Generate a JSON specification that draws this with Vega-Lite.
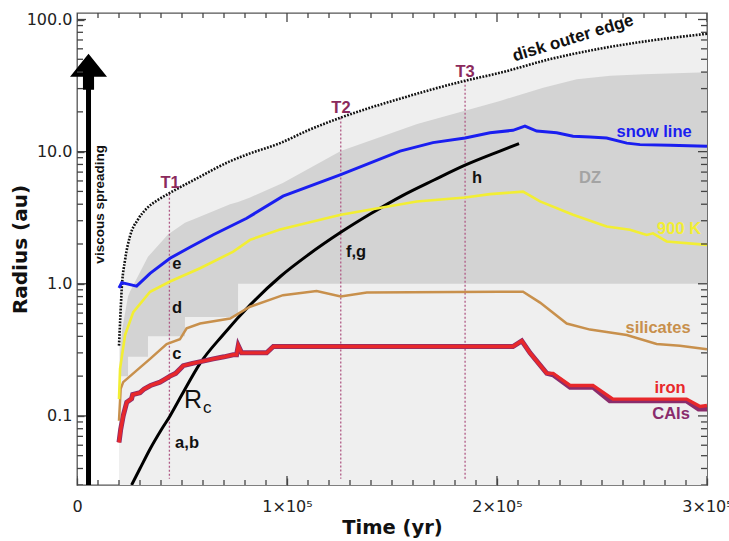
{
  "$schema": "https://vega.github.io/schema/vega-lite/v6.json",
  "width": 630,
  "height": 472,
  "autosize": {"type": "none"},
  "padding": {"left": 77, "top": 13, "right": 22, "bottom": 56},
  "background": "white",
  "config": {
    "view": {"stroke": "#555555", "strokeWidth": 1.3},
    "font": "DejaVu Sans"
  },
  "datasets": {
    "outer": [
      {"t": 20000, "r": 0.34}, {"t": 20600, "r": 0.55}, {"t": 21300, "r": 0.92}, {"t": 22900, "r": 1.52},
      {"t": 25200, "r": 2.28}, {"t": 29000, "r": 3.06}, {"t": 33200, "r": 3.72}, {"t": 38100, "r": 4.27},
      {"t": 43800, "r": 4.83}, {"t": 57000, "r": 6.27}, {"t": 72900, "r": 8.46}, {"t": 82400, "r": 9.7},
      {"t": 96700, "r": 11.6}, {"t": 110000, "r": 14.5}, {"t": 125600, "r": 18.1}, {"t": 155000, "r": 25.5},
      {"t": 184800, "r": 34.4}, {"t": 201400, "r": 39.5}, {"t": 225000, "r": 50}, {"t": 248600, "r": 60},
      {"t": 272400, "r": 69}, {"t": 300000, "r": 78}
    ],
    "dz": [
      {"t": 20500, "r": 0.3, "r2": 0.2}, {"t": 21500, "r": 0.45, "r2": 0.2}, {"t": 24300, "r": 0.8, "r2": 0.2},
      {"t": 24301, "r": 0.8, "r2": 0.28}, {"t": 25200, "r": 0.87, "r2": 0.28}, {"t": 33800, "r": 1.6, "r2": 0.28},
      {"t": 33801, "r": 1.6, "r2": 0.4}, {"t": 43300, "r": 2.36, "r2": 0.4}, {"t": 51400, "r": 2.9, "r2": 0.4},
      {"t": 51401, "r": 2.9, "r2": 0.56}, {"t": 57000, "r": 3.14, "r2": 0.56}, {"t": 72900, "r": 3.99, "r2": 0.56},
      {"t": 76700, "r": 4.15, "r2": 0.56}, {"t": 76701, "r": 4.15, "r2": 1.0}, {"t": 82400, "r": 4.5, "r2": 1.0},
      {"t": 98000, "r": 5.8, "r2": 1.0}, {"t": 125600, "r": 10.1, "r2": 1.0}, {"t": 162000, "r": 16.2, "r2": 1.0},
      {"t": 201400, "r": 24.2, "r2": 1.0}, {"t": 222000, "r": 30.5, "r2": 1.0}, {"t": 238000, "r": 35.3, "r2": 1.0},
      {"t": 254000, "r": 37.5, "r2": 1.0}, {"t": 270000, "r": 38.6, "r2": 1.0}, {"t": 300000, "r": 39.8, "r2": 1.0}
    ],
    "tlines": [
      {"t": 44000, "r": 4.8, "r2": 0.0335, "label": "T1"},
      {"t": 125600, "r": 18.1, "r2": 0.0335, "label": "T2"},
      {"t": 184800, "r": 34.4, "r2": 0.0335, "label": "T3"}
    ],
    "tlabels": [
      {"t": 44300, "r": 5.8, "label": "T1"},
      {"t": 125700, "r": 21.5, "label": "T2"},
      {"t": 184800, "r": 40, "label": "T3"}
    ],
    "rc": [
      {"t": 26000, "r": 0.03}, {"t": 30000, "r": 0.04}, {"t": 35000, "r": 0.057}, {"t": 40000, "r": 0.078},
      {"t": 44300, "r": 0.1}, {"t": 50000, "r": 0.145}, {"t": 58600, "r": 0.25}, {"t": 69500, "r": 0.41},
      {"t": 82400, "r": 0.69}, {"t": 96700, "r": 1.13}, {"t": 110000, "r": 1.65}, {"t": 125600, "r": 2.45},
      {"t": 140000, "r": 3.4}, {"t": 155000, "r": 4.65}, {"t": 170000, "r": 6.1}, {"t": 184800, "r": 7.9},
      {"t": 201400, "r": 10.1}, {"t": 210500, "r": 11.5}
    ],
    "iron": [
      {"t": 20000, "r": 0.063}, {"t": 20800, "r": 0.079}, {"t": 22000, "r": 0.1}, {"t": 23700, "r": 0.127},
      {"t": 26000, "r": 0.135}, {"t": 26500, "r": 0.145}, {"t": 30000, "r": 0.15}, {"t": 32000, "r": 0.16},
      {"t": 35000, "r": 0.17}, {"t": 39500, "r": 0.18}, {"t": 42000, "r": 0.19}, {"t": 44300, "r": 0.2},
      {"t": 47000, "r": 0.21}, {"t": 50600, "r": 0.24}, {"t": 55000, "r": 0.25}, {"t": 60000, "r": 0.26},
      {"t": 64900, "r": 0.27}, {"t": 70000, "r": 0.28}, {"t": 74400, "r": 0.29}, {"t": 76000, "r": 0.29},
      {"t": 76800, "r": 0.34}, {"t": 78400, "r": 0.3}, {"t": 90300, "r": 0.3}, {"t": 93500, "r": 0.335},
      {"t": 207600, "r": 0.335}, {"t": 211800, "r": 0.37}, {"t": 215700, "r": 0.3}, {"t": 223700, "r": 0.21},
      {"t": 226700, "r": 0.21}, {"t": 234800, "r": 0.17}, {"t": 245700, "r": 0.17}, {"t": 255200, "r": 0.134},
      {"t": 290300, "r": 0.134}, {"t": 296700, "r": 0.118}, {"t": 300000, "r": 0.12}
    ],
    "cais": [
      {"t": 20000, "r": 0.063}, {"t": 20800, "r": 0.079}, {"t": 22000, "r": 0.1}, {"t": 23700, "r": 0.127},
      {"t": 26000, "r": 0.135}, {"t": 26500, "r": 0.145}, {"t": 30000, "r": 0.15}, {"t": 32000, "r": 0.16},
      {"t": 35000, "r": 0.17}, {"t": 39500, "r": 0.18}, {"t": 42000, "r": 0.19}, {"t": 44300, "r": 0.2},
      {"t": 47000, "r": 0.21}, {"t": 50600, "r": 0.24}, {"t": 55000, "r": 0.25}, {"t": 60000, "r": 0.26},
      {"t": 64900, "r": 0.27}, {"t": 70000, "r": 0.28}, {"t": 74400, "r": 0.29}, {"t": 76000, "r": 0.29},
      {"t": 76800, "r": 0.34}, {"t": 78400, "r": 0.3}, {"t": 90300, "r": 0.3}, {"t": 93500, "r": 0.335},
      {"t": 207600, "r": 0.335}, {"t": 211800, "r": 0.37}, {"t": 215700, "r": 0.3}, {"t": 223700, "r": 0.21},
      {"t": 226700, "r": 0.205}, {"t": 234800, "r": 0.165}, {"t": 245700, "r": 0.165}, {"t": 253700, "r": 0.13},
      {"t": 290300, "r": 0.13}, {"t": 296000, "r": 0.113}, {"t": 300000, "r": 0.113}
    ],
    "silicates": [
      {"t": 20000, "r": 0.092}, {"t": 20800, "r": 0.16}, {"t": 22000, "r": 0.18}, {"t": 26800, "r": 0.21},
      {"t": 34800, "r": 0.27}, {"t": 42700, "r": 0.35}, {"t": 49000, "r": 0.38}, {"t": 52200, "r": 0.46},
      {"t": 58600, "r": 0.5}, {"t": 72900, "r": 0.545}, {"t": 82400, "r": 0.67}, {"t": 98100, "r": 0.82},
      {"t": 114100, "r": 0.88}, {"t": 125600, "r": 0.8}, {"t": 138000, "r": 0.86}, {"t": 201400, "r": 0.87},
      {"t": 212400, "r": 0.87}, {"t": 220500, "r": 0.72}, {"t": 233200, "r": 0.5}, {"t": 244300, "r": 0.45},
      {"t": 261800, "r": 0.41}, {"t": 276000, "r": 0.35}, {"t": 287100, "r": 0.34}, {"t": 300000, "r": 0.32}
    ],
    "k900": [
      {"t": 20000, "r": 0.134}, {"t": 20500, "r": 0.227}, {"t": 22900, "r": 0.41}, {"t": 26800, "r": 0.61},
      {"t": 34800, "r": 0.87}, {"t": 44300, "r": 1.04}, {"t": 58600, "r": 1.31}, {"t": 74400, "r": 1.75},
      {"t": 82400, "r": 2.15}, {"t": 96700, "r": 2.57}, {"t": 125600, "r": 3.33}, {"t": 161800, "r": 4.2},
      {"t": 184800, "r": 4.5}, {"t": 196700, "r": 4.77}, {"t": 212400, "r": 4.98}, {"t": 220500, "r": 4.2},
      {"t": 236200, "r": 3.33}, {"t": 252200, "r": 2.71}, {"t": 263300, "r": 2.56}, {"t": 271300, "r": 2.34},
      {"t": 274300, "r": 2.41}, {"t": 280800, "r": 2.09}, {"t": 300000, "r": 1.97}
    ],
    "snow": [
      {"t": 20000, "r": 0.93}, {"t": 21300, "r": 1.02}, {"t": 28400, "r": 0.96}, {"t": 34800, "r": 1.2},
      {"t": 44300, "r": 1.56}, {"t": 54000, "r": 1.9}, {"t": 64900, "r": 2.35}, {"t": 80800, "r": 3.13},
      {"t": 98100, "r": 4.6}, {"t": 125600, "r": 6.7}, {"t": 153800, "r": 10.1}, {"t": 169500, "r": 11.7},
      {"t": 184800, "r": 12.7}, {"t": 196700, "r": 13.9}, {"t": 207600, "r": 14.5}, {"t": 213300, "r": 15.6},
      {"t": 218900, "r": 14.3}, {"t": 228400, "r": 13.9}, {"t": 236200, "r": 13.1}, {"t": 244300, "r": 12.9},
      {"t": 252200, "r": 12.7}, {"t": 261800, "r": 11.6}, {"t": 268100, "r": 11.3}, {"t": 282400, "r": 11.2},
      {"t": 300000, "r": 11.0}
    ],
    "arrow": [{"t": 5480, "r": 32, "r2": 0.03}],
    "arrowhead": [{"t": 5480, "r": 39.9}],
    "letters": [
      {"t": 47600, "r": 1.42, "label": "e"}, {"t": 47600, "r": 0.657, "label": "d"},
      {"t": 47600, "r": 0.294, "label": "c"}, {"t": 52400, "r": 0.062, "label": "a,b"},
      {"t": 132900, "r": 1.75, "label": "f,g"}, {"t": 190500, "r": 6.28, "label": "h"}
    ],
    "names": [
      {"t": 274800, "r": 14.0, "label": "snow line", "series": "snow"},
      {"t": 244300, "r": 6.28, "label": "DZ", "series": "dz"},
      {"t": 286700, "r": 2.62, "label": "900 K", "series": "k900"},
      {"t": 276700, "r": 0.463, "label": "silicates", "series": "silicates"},
      {"t": 282400, "r": 0.162, "label": "iron", "series": "iron"},
      {"t": 282900, "r": 0.103, "label": "CAIs", "series": "cais"}
    ],
    "xmajor": [{"t": 0}, {"t": 100000}, {"t": 200000}, {"t": 300000}],
    "xminor": [
      {"t": 10000}, {"t": 20000}, {"t": 30000}, {"t": 40000}, {"t": 50000}, {"t": 60000}, {"t": 70000}, {"t": 80000}, {"t": 90000},
      {"t": 110000}, {"t": 120000}, {"t": 130000}, {"t": 140000}, {"t": 150000}, {"t": 160000}, {"t": 170000}, {"t": 180000}, {"t": 190000},
      {"t": 210000}, {"t": 220000}, {"t": 230000}, {"t": 240000}, {"t": 250000}, {"t": 260000}, {"t": 270000}, {"t": 280000}, {"t": 290000}
    ],
    "ymajor": [{"r": 0.1}, {"r": 1}, {"r": 10}, {"r": 100}],
    "yminor": [
      {"r": 0.03}, {"r": 0.04}, {"r": 0.05}, {"r": 0.06}, {"r": 0.07}, {"r": 0.08}, {"r": 0.09},
      {"r": 0.2}, {"r": 0.3}, {"r": 0.4}, {"r": 0.5}, {"r": 0.6}, {"r": 0.7}, {"r": 0.8}, {"r": 0.9},
      {"r": 2}, {"r": 3}, {"r": 4}, {"r": 5}, {"r": 6}, {"r": 7}, {"r": 8}, {"r": 9},
      {"r": 20}, {"r": 30}, {"r": 40}, {"r": 50}, {"r": 60}, {"r": 70}, {"r": 80}, {"r": 90}
    ]
  },
  "resolve": {"axis": {"x": "independent", "y": "independent"}},
  "layer": [
    {
      "encoding": {
        "x": {
          "field": "t", "type": "quantitative",
          "scale": {"domain": [0, 300000], "nice": false, "zero": false},
          "axis": {
            "orient": "bottom", "zindex": 1,
            "values": [0, 100000, 200000, 300000],
            "labelExpr": "datum.value == 0 ? '0' : format(datum.value / 100000, 'd') + '×10⁵'",
            "tickSize": -7, "tickColor": "#444444", "tickWidth": 1.3,
            "domain": false, "grid": false,
            "labelFlush": false, "labelOverlap": false,
            "labelFontSize": 16, "labelColor": "#222222", "labelPadding": 20,
            "title": "Time (yr)", "titleFontSize": 19.5, "titleFontWeight": "bold", "titleColor": "#111111",
            "titlePadding": 4
          }
        },
        "y": {
          "field": "r", "type": "quantitative",
          "scale": {"type": "log", "domain": [0.03, 112], "nice": false},
          "axis": {
            "orient": "left", "zindex": 1,
            "values": [0.1, 1, 10, 100],
            "labelExpr": "format(datum.value, '.1f')",
            "tickSize": -7, "tickColor": "#444444", "tickWidth": 1.3,
            "domain": false, "grid": false,
            "labelFlush": false, "labelOverlap": false,
            "labelFontSize": 16, "labelColor": "#222222", "labelPadding": 12,
            "title": "Radius (au)", "titleFontSize": 20, "titleFontWeight": "bold", "titleColor": "#111111",
            "titlePadding": -4
          }
        }
      },
      "layer": [
        {
          "data": {"name": "outer"},
          "mark": {"type": "area", "color": "#efefef", "opacity": 1},
          "encoding": {"y2": {"datum": 0.03}}
        },
        {
          "data": {"name": "dz"},
          "mark": {"type": "area", "color": "#d3d3d3", "opacity": 1},
          "encoding": {"y2": {"field": "r2"}}
        },
        {
          "data": {"name": "tlines"},
          "mark": {"type": "rule", "color": "#b05a85", "strokeWidth": 1.3, "strokeDash": [2, 2]},
          "encoding": {"y2": {"field": "r2"}}
        },
        {
          "data": {"name": "outer"},
          "mark": {"type": "line", "color": "#111111", "strokeWidth": 2.6, "strokeDash": [1.8, 1.4], "interpolate": "monotone"},
          "encoding": {}
        },
        {
          "data": {"name": "rc"},
          "mark": {"type": "line", "color": "#000000", "strokeWidth": 3, "interpolate": "monotone", "clip": true},
          "encoding": {}
        },
        {
          "data": {"name": "cais"},
          "mark": {"type": "line", "color": "#8a2c6c", "strokeWidth": 5},
          "encoding": {}
        },
        {
          "data": {"name": "iron"},
          "mark": {"type": "line", "color": "#e8282b", "strokeWidth": 3.4},
          "encoding": {}
        },
        {
          "data": {"name": "silicates"},
          "mark": {"type": "line", "color": "#c8904c", "strokeWidth": 2.5},
          "encoding": {}
        },
        {
          "data": {"name": "k900"},
          "mark": {"type": "line", "color": "#f2ee33", "strokeWidth": 2.6},
          "encoding": {}
        },
        {
          "data": {"name": "snow"},
          "mark": {"type": "line", "color": "#1a1ef0", "strokeWidth": 3},
          "encoding": {}
        },
        {
          "data": {"name": "arrow"},
          "mark": {"type": "rule", "color": "#000000", "strokeWidth": 5},
          "encoding": {"y2": {"field": "r2"}}
        },
        {
          "data": {"name": "arrowhead"},
          "mark": {"type": "point", "filled": true, "color": "#000000", "opacity": 1, "size": 1369,
                   "shape": "M0,-1L1,0.24L0.3,0.24L0.3,0.95L-0.3,0.95L-0.3,0.24L-1,0.24Z"},
          "encoding": {}
        },
        {
          "data": {"name": "tlabels"},
          "mark": {"type": "text", "font": "Liberation Sans", "fontWeight": "bold", "fontSize": 16.5, "color": "#8b2a5c", "align": "center", "baseline": "middle"},
          "encoding": {"text": {"field": "label"}}
        },
        {
          "data": {"name": "letters"},
          "mark": {"type": "text", "font": "Liberation Sans", "fontWeight": "bold", "fontSize": 16.5, "color": "#111111", "align": "center", "baseline": "middle"},
          "encoding": {"text": {"field": "label"}}
        },
        {
          "data": {"name": "names"},
          "mark": {"type": "text", "font": "Liberation Sans", "fontWeight": "bold", "fontSize": 16.5, "align": "center", "baseline": "middle"},
          "encoding": {
            "text": {"field": "label"},
            "color": {"field": "series", "type": "nominal", "legend": null,
                      "scale": {"domain": ["snow", "dz", "k900", "silicates", "iron", "cais"],
                                "range": ["#1a1ef0", "#a3a3a3", "#f2ee33", "#c8904c", "#e8282b", "#8a2c6c"]}}
          }
        },
        {
          "data": {"values": [{"t": 236200, "r": 72, "label": "disk outer edge"}]},
          "mark": {"type": "text", "font": "Liberation Sans", "fontWeight": "bold", "fontSize": 17, "color": "#111111", "align": "center", "baseline": "middle", "angle": 343},
          "encoding": {"text": {"field": "label"}}
        },
        {
          "data": {"values": [{"t": 10950, "r": 3.99, "label": "viscous spreading"}]},
          "mark": {"type": "text", "font": "Liberation Sans", "fontWeight": "bold", "fontSize": 13.5, "color": "#111111", "align": "center", "baseline": "middle", "angle": 270},
          "encoding": {"text": {"field": "label"}}
        },
        {
          "data": {"values": [{"t": 55200, "r": 0.131, "label": "R"}]},
          "mark": {"type": "text", "font": "Liberation Sans", "fontSize": 25, "color": "#111111", "align": "center", "baseline": "middle"},
          "encoding": {"text": {"field": "label"}}
        },
        {
          "data": {"values": [{"t": 62000, "r": 0.114, "label": "c"}]},
          "mark": {"type": "text", "font": "Liberation Sans", "fontSize": 17, "color": "#111111", "align": "center", "baseline": "middle"},
          "encoding": {"text": {"field": "label"}}
        }
      ]
    },
    {
      "layer": [
        {
          "data": {"name": "xmajor"},
          "mark": {"type": "tick", "orient": "vertical", "size": 18, "thickness": 1.3, "color": "#444444", "opacity": 1, "clip": true},
          "encoding": {
            "x": {"field": "t", "type": "quantitative", "scale": {"domain": [0, 300000], "nice": false, "zero": false}, "axis": null},
            "y": {"datum": 0.03, "type": "quantitative", "scale": {"type": "log", "domain": [0.03, 112], "nice": false}, "axis": null}
          }
        },
        {
          "data": {"name": "xmajor"},
          "mark": {"type": "tick", "orient": "vertical", "size": 18, "thickness": 1.3, "color": "#444444", "opacity": 1, "clip": true},
          "encoding": {
            "x": {"field": "t", "type": "quantitative", "scale": {"domain": [0, 300000], "nice": false, "zero": false}, "axis": null},
            "y": {"datum": 112, "type": "quantitative", "scale": {"type": "log", "domain": [0.03, 112], "nice": false}, "axis": null}
          }
        },
        {
          "data": {"name": "xminor"},
          "mark": {"type": "tick", "orient": "vertical", "size": 10, "thickness": 1.3, "color": "#444444", "opacity": 1, "clip": true},
          "encoding": {
            "x": {"field": "t", "type": "quantitative", "scale": {"domain": [0, 300000], "nice": false, "zero": false}, "axis": null},
            "y": {"datum": 0.03, "type": "quantitative", "scale": {"type": "log", "domain": [0.03, 112], "nice": false}, "axis": null}
          }
        },
        {
          "data": {"name": "xminor"},
          "mark": {"type": "tick", "orient": "vertical", "size": 10, "thickness": 1.3, "color": "#444444", "opacity": 1, "clip": true},
          "encoding": {
            "x": {"field": "t", "type": "quantitative", "scale": {"domain": [0, 300000], "nice": false, "zero": false}, "axis": null},
            "y": {"datum": 112, "type": "quantitative", "scale": {"type": "log", "domain": [0.03, 112], "nice": false}, "axis": null}
          }
        },
        {
          "data": {"name": "ymajor"},
          "mark": {"type": "tick", "orient": "horizontal", "size": 18, "thickness": 1.3, "color": "#444444", "opacity": 1, "clip": true},
          "encoding": {
            "x": {"datum": 0, "type": "quantitative", "scale": {"domain": [0, 300000], "nice": false, "zero": false}, "axis": null},
            "y": {"field": "r", "type": "quantitative", "scale": {"type": "log", "domain": [0.03, 112], "nice": false}, "axis": null}
          }
        },
        {
          "data": {"name": "ymajor"},
          "mark": {"type": "tick", "orient": "horizontal", "size": 18, "thickness": 1.3, "color": "#444444", "opacity": 1, "clip": true},
          "encoding": {
            "x": {"datum": 300000, "type": "quantitative", "scale": {"domain": [0, 300000], "nice": false, "zero": false}, "axis": null},
            "y": {"field": "r", "type": "quantitative", "scale": {"type": "log", "domain": [0.03, 112], "nice": false}, "axis": null}
          }
        },
        {
          "data": {"name": "yminor"},
          "mark": {"type": "tick", "orient": "horizontal", "size": 12, "thickness": 1.3, "color": "#444444", "opacity": 1, "clip": true},
          "encoding": {
            "x": {"datum": 0, "type": "quantitative", "scale": {"domain": [0, 300000], "nice": false, "zero": false}, "axis": null},
            "y": {"field": "r", "type": "quantitative", "scale": {"type": "log", "domain": [0.03, 112], "nice": false}, "axis": null}
          }
        },
        {
          "data": {"name": "yminor"},
          "mark": {"type": "tick", "orient": "horizontal", "size": 12, "thickness": 1.3, "color": "#444444", "opacity": 1, "clip": true},
          "encoding": {
            "x": {"datum": 300000, "type": "quantitative", "scale": {"domain": [0, 300000], "nice": false, "zero": false}, "axis": null},
            "y": {"field": "r", "type": "quantitative", "scale": {"type": "log", "domain": [0.03, 112], "nice": false}, "axis": null}
          }
        }
      ]
    }
  ]
}
